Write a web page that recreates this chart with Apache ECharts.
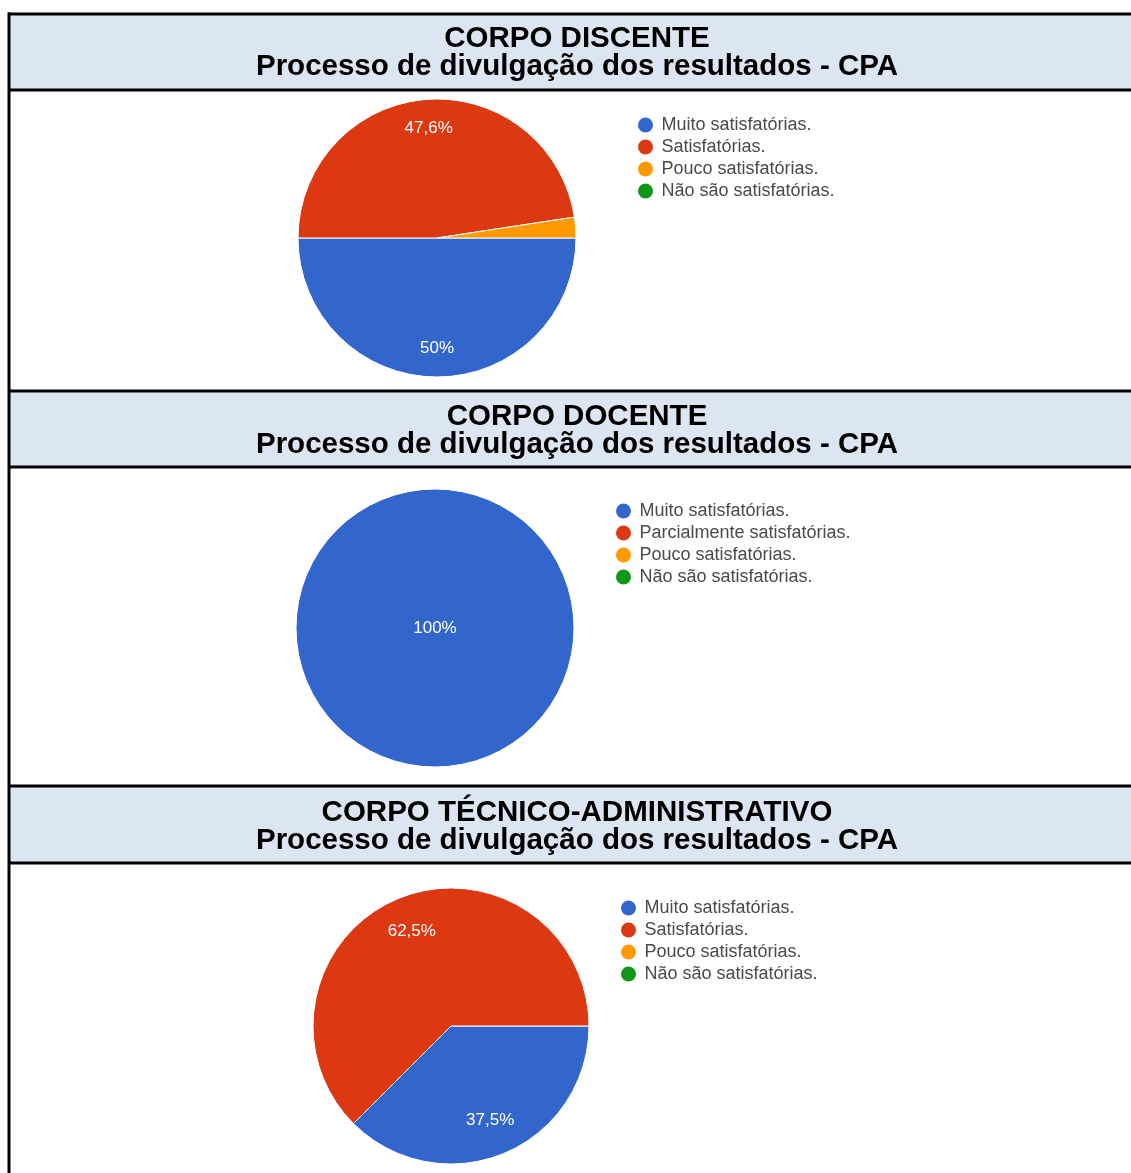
<!DOCTYPE html>
<html>
<head>
<meta charset="utf-8">
<script src="https://cdn.jsdelivr.net/npm/echarts@6/dist/echarts.min.js"></script>
<style>
  html, body { margin: 0; padding: 0; background: #ffffff; }
  #chart { width: 1131px; height: 1173px; }
</style>
</head>
<body>
<div id="chart"></div>
<script>
// ---- data ----
const headerLine1 = ['CORPO DISCENTE', 'CORPO DOCENTE', 'CORPO TÉCNICO-ADMINISTRATIVO'];
const headerLine2 = ['Processo de divulgação dos resultados - CPA', 'Processo de divulgação dos resultados - CPA', 'Processo de divulgação dos resultados - CPA'];

const categoriesDiscente = ['Muito satisfatórias.', 'Satisfatórias.', 'Pouco satisfatórias.', 'Não são satisfatórias.'];
const valuesDiscente = [50, 47.6, 2.4, 0];

const categoriesDocente = ['Muito satisfatórias.', 'Parcialmente satisfatórias.', 'Pouco satisfatórias.', 'Não são satisfatórias.'];
const valuesDocente = [100, 0, 0, 0];

const categoriesTecnico = ['Muito satisfatórias.', 'Satisfatórias.', 'Pouco satisfatórias.', 'Não são satisfatórias.'];
const valuesTecnico = [37.5, 62.5, 0, 0];

const sliceColors = ['#3366cc', '#dc3912', '#ff9900', '#109618'];

// ---- layout ----
const FONT = 'Liberation Sans, Arial, sans-serif';
const headers = [ {top: 14, bottom: 90}, {top: 391, bottom: 467}, {top: 786, bottom: 863} ];
const pies = [
  {cats: categoriesDiscente, vals: valuesDiscente, center: [437, 238], r: 139, inner: 0.55, legend: {left: 633, top: 111}},
  {cats: categoriesDocente, vals: valuesDocente, center: [435, 628], r: 139, inner: 0.5, legend: {left: 611, top: 497}},
  {cats: categoriesTecnico, vals: valuesTecnico, center: [451, 1026], r: 138, inner: 0.44, legend: {left: 616, top: 894}}
];

const graphics = [];
headers.forEach((h, i) => {
  graphics.push({type: 'rect', shape: {x: 9, y: h.top, width: 1140, height: h.bottom - h.top},
    style: {fill: '#dce6f2'}, z: 0, silent: true});
  graphics.push({type: 'text', x: 577, y: h.top + 25 + i, style: {text: headerLine1[i], font: 'bold 29.5px ' + FONT,
    fill: '#000', textAlign: 'center', textVerticalAlign: 'middle'}, z: 5});
  graphics.push({type: 'text', x: 577, y: h.top + 53 + i, style: {text: headerLine2[i], font: 'bold 29.5px ' + FONT,
    fill: '#000', textAlign: 'center', textVerticalAlign: 'middle'}, z: 5});
  [h.top, h.bottom].forEach(yy => {
    graphics.push({type: 'line', shape: {x1: 8, y1: yy, x2: 1140, y2: yy},
      style: {stroke: '#000', lineWidth: 3}, z: 6, silent: true});
  });
});
graphics.push({type: 'line', shape: {x1: 9, y1: 12.5, x2: 9, y2: 1173},
  style: {stroke: '#000', lineWidth: 3}, z: 6, silent: true});

const series = [];
const legends = [];
pies.forEach((p, idx) => {
  series.push({
    type: 'pie', center: p.center, radius: [0, p.r], startAngle: 0, clockwise: true,
    animation: false, avoidLabelOverlap: false,
    label: {show: false}, labelLine: {show: false},
    emphasis: {disabled: true},
    data: p.cats.map((c, k) => ({
      name: c, value: p.vals[k],
      itemStyle: {color: sliceColors[k], borderColor: '#ffffff', borderWidth: p.vals[k] > 0 ? 1 : 0}
    }))
  });
  // label layer (transparent ring placing labels ~3/4 of the radius)
  series.push({
    type: 'pie', center: p.center, radius: [Math.round(p.r * p.inner), p.r], startAngle: 0, clockwise: true,
    animation: false, silent: true, avoidLabelOverlap: false,
    labelLine: {show: false},
    emphasis: {disabled: true},
    label: {
      show: true, position: 'inside', color: '#ffffff', fontFamily: FONT, fontSize: 17,
      formatter: (prm) => prm.percent < 5 ? '' : String(prm.value).replace('.', ',') + '%'
    },
    data: p.cats.map((c, k) => ({
      name: c, value: p.vals[k],
      itemStyle: {color: 'rgba(0,0,0,0)', borderWidth: 0},
      label: {position: p.vals[k] === 100 ? 'center' : 'inside'}
    }))
  });
  legends.push({
    data: p.cats, orient: 'vertical', left: p.legend.left, top: p.legend.top,
    icon: 'circle', itemWidth: 22, itemHeight: 15, itemGap: 4, selectedMode: false,
    itemStyle: {borderWidth: 0},
    textStyle: {fontFamily: FONT, fontSize: 18, color: '#4a4a4a', lineHeight: 18}
  });
});

const chart = echarts.init(document.getElementById('chart'), null, {renderer: 'canvas'});
chart.setOption({
  backgroundColor: '#ffffff',
  animation: false,
  legend: legends,
  graphic: graphics,
  series: series
});
</script>
</body>
</html>
